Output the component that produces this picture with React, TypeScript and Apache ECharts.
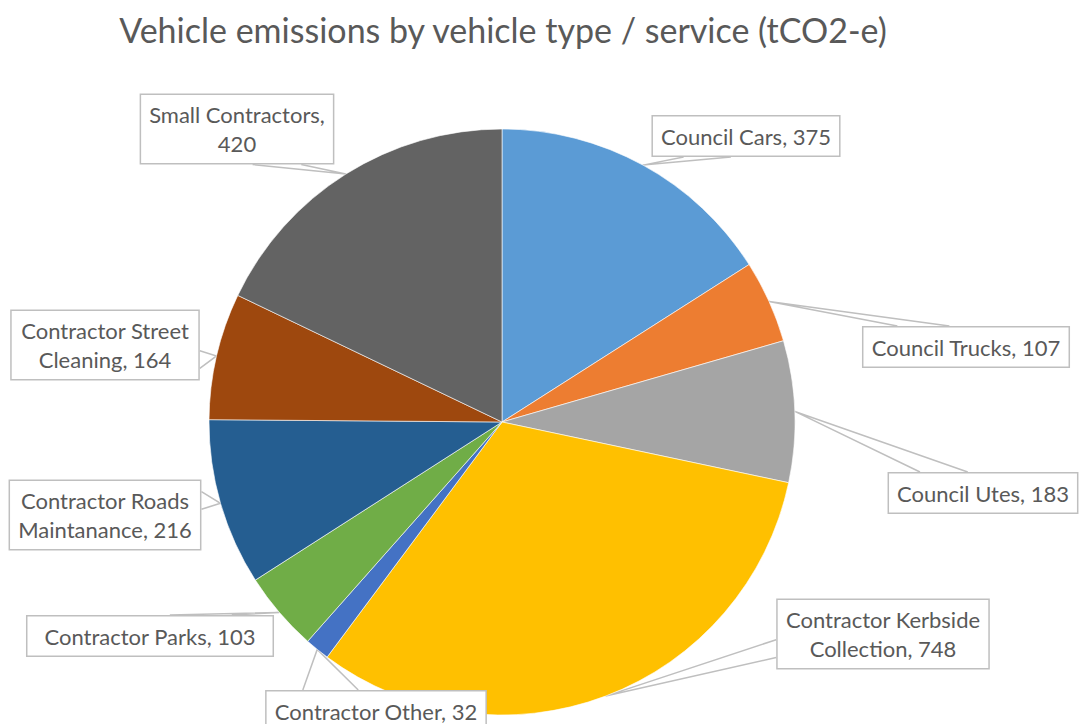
import React, { useEffect, useRef } from "react";
import * as echarts from "echarts";

const categories = [
  "Council Cars",
  "Council Trucks",
  "Council Utes",
  "Contractor Kerbside Collection",
  "Contractor Other",
  "Contractor Parks",
  "Contractor Roads Maintanance",
  "Contractor Street Cleaning",
  "Small Contractors",
];
const values = [375, 107, 183, 748, 32, 103, 216, 164, 420];
const colors = ["#5B9BD5", "#ED7D31", "#A5A5A5", "#FFC000", "#4472C4", "#70AD47", "#255E91", "#9E480E", "#636363"];
const wrapLabel = [false, false, false, true, false, false, true, true, true];
const title = "Vehicle emissions by vehicle type / service (tCO2-e)";

// layout (label box centres)
const labelCenters: number[][] = [
  [746, 136],
  [966, 347],
  [983, 493],
  [883, 634],
  [376, 711],
  [150, 636],
  [105, 515],
  [105, 345],
  [237, 129],
];

const CX = 502;
const CY = 422;
const R = 293;
const FONT = "Lato, 'Open Sans', sans-serif";

export default function App() {
  const ref = useRef<HTMLDivElement>(null);
  useEffect(() => {
    document.body.style.margin = "0";
    if (!ref.current) return;
    const chart = echarts.init(ref.current, undefined, { renderer: "svg" });
    const total = values.reduce((a, b) => a + b, 0);
    const tipOf = (i: number) => {
      let cum = 0;
      for (let j = 0; j < i; j++) cum += values[j];
      const a = ((cum + values[i] / 2) / total) * Math.PI * 2;
      return [CX + R * Math.sin(a), CY - R * Math.cos(a)];
    };
    chart.setOption({
      animation: false,
      backgroundColor: "#ffffff",
      graphic: [
        {
          type: "text",
          x: 503,
          y: 29,
          style: {
            text: title,
            font: `34px ${FONT}`,
            fill: "#595959",
            textAlign: "center",
            textVerticalAlign: "middle",
            align: "center",
            verticalAlign: "middle",
          },
        },
      ],
      series: [
        {
          type: "pie",
          center: [CX, CY],
          radius: R,
          startAngle: 90,
          clockwise: true,
          data: categories.map((name, i) => ({
            name,
            value: values[i],
            itemStyle: { color: colors[i] },
          })),
          itemStyle: { borderColor: "#ffffff", borderWidth: 0.6 },
          label: {
            show: true,
            position: "outside",
            overflow: "none",
            edgeDistance: 0,
            formatter: (p: any) => {
              const txt = `${p.name}, ${p.value}`;
              if (!wrapLabel[p.dataIndex]) return txt;
              const words = txt.split(" ");
              return words.slice(0, 2).join(" ") + "\n" + words.slice(2).join(" ");
            },
            fontFamily: FONT,
            fontSize: 22,
            color: "#595959",
            lineHeight: 29,
            align: "center",
            backgroundColor: "#ffffff",
            borderColor: "#BFBFBF",
            borderWidth: 1.5,
            padding: [5, 8],
          },
          labelLine: {
            show: true,
            length: 10,
            length2: 10,
            lineStyle: { color: "#BFBFBF", width: 1.5 },
          },
          labelLayout: (params: any) => {
            const i = params.dataIndex;
            const [bx, by] = labelCenters[i];
            const w = params.labelRect.width;
            const h = params.labelRect.height;
            const [tx, ty] = tipOf(i);
            const hw = w / 2;
            const hh = h / 2;
            const nx = (tx - bx) / hw;
            const ny = (ty - by) / hh;
            let A: number[];
            let B: number[];
            if (Math.abs(ny) >= Math.abs(nx)) {
              const ey = ny < 0 ? by - hh : by + hh;
              const sx = tx < bx ? -1 : 1;
              const corner = bx + sx * hw;
              A = [corner - sx * 0.17 * w, ey];
              B = [corner - sx * 0.42 * w, ey];
            } else {
              const ex = nx < 0 ? bx - hw : bx + hw;
              const sy = ty < by ? -1 : 1;
              const corner = by + sy * hh;
              A = [ex, corner - sy * 0.17 * h];
              B = [ex, corner - sy * 0.42 * h];
            }
            return {
              x: bx,
              y: by,
              align: "center",
              verticalAlign: "middle",
              labelLinePoints: [A, [tx, ty], B],
            };
          },
        },
      ],
    });
    return () => chart.dispose();
  }, []);
  return <div ref={ref} style={{ width: 1081, height: 724 }} />;
}
